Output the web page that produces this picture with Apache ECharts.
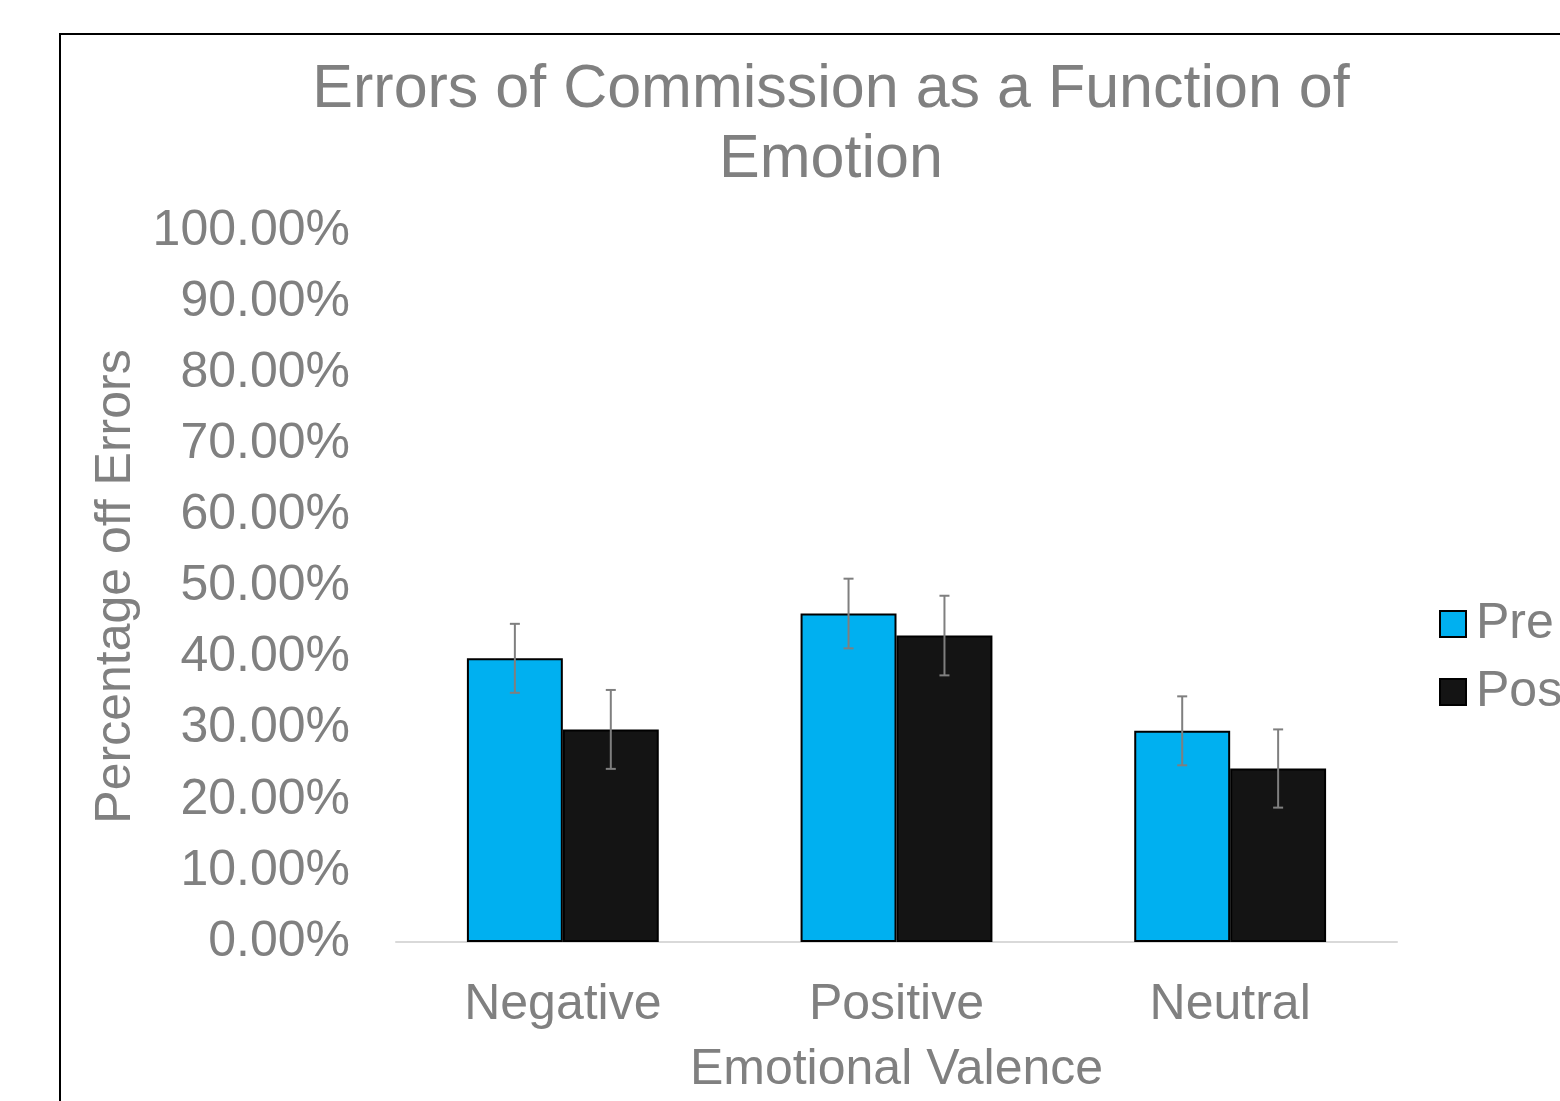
<!DOCTYPE html>
<html>
<head>
<meta charset="utf-8">
<script src="https://cdn.jsdelivr.net/npm/echarts@6/dist/echarts.min.js"></script>
<style>
  html, body { margin: 0; padding: 0; background: #fff; }
  #main { width: 1560px; height: 1101px; }
</style>
</head>
<body>
<div id="main"></div>
<script>
// values, in percent
const categories = ['Negative', 'Positive', 'Neutral']
const preValues = [39.9, 46.2, 29.7]
const postValues = [29.9, 43.1, 24.4]
const preErrors = [4.85, 4.9, 4.85]
const postErrors = [5.55, 5.6, 5.5]

const gray = '#808080'
const font = 'Liberation Sans, Arial, sans-serif'
const catGap = 0.425

const chart = echarts.init(document.getElementById('main'), null, { renderer: 'canvas' })

// error bar drawn at the middle of one of the two bars in a category
function errorBars(values, errors, side) {
  return {
    type: 'custom',
    z: 10,
    silent: true,
    data: values.map((v, i) => [i, v, errors[i]]),
    renderItem(params, api) {
      const i = api.value(0)
      const v = api.value(1)
      const e = api.value(2)
      const band = api.size([1, 0])[0]
      const barW = band * (1 - catGap) / 2
      const x = api.coord([i, v])[0] + side * barW / 2
      const yTop = api.coord([i, v + e])[1]
      const yBot = api.coord([i, v - e])[1]
      const cap = 5
      const style = { stroke: '#7f7f7f', lineWidth: 2 }
      return {
        type: 'group',
        children: [
          { type: 'line', shape: { x1: x, y1: yTop, x2: x, y2: yBot }, style },
          { type: 'line', shape: { x1: x - cap, y1: yTop, x2: x + cap, y2: yTop }, style },
          { type: 'line', shape: { x1: x - cap, y1: yBot, x2: x + cap, y2: yBot }, style }
        ]
      }
    }
  }
}

const option = {
  backgroundColor: '#fff',
  animation: false,
  textStyle: { fontFamily: font },
  graphic: [{
    type: 'rect',
    shape: { x: 60, y: 34, width: 1600, height: 1200 },
    style: { fill: 'none', stroke: '#000', lineWidth: 2 },
    silent: true
  }],
  title: {
    text: 'Errors of Commission as a Function of\nEmotion',
    left: 826,
    textAlign: 'center',
    top: 50,
    textStyle: {
      color: gray,
      fontFamily: font,
      fontWeight: 'normal',
      fontSize: 61,
      lineHeight: 70
    }
  },
  legend: {
    data: ['Pre', 'Post'],
    orient: 'vertical',
    left: 1434,
    top: 594,
    itemWidth: 26,
    itemHeight: 26,
    itemGap: 18,
    icon: 'rect',
    textStyle: { color: gray, fontSize: 50, fontFamily: font, lineHeight: 50, padding: [0, 0, 0, 5] }
  },
  grid: { left: 396, right: 163, top: 231, bottom: 159, containLabel: false },
  xAxis: {
    type: 'category',
    data: categories,
    name: 'Emotional Valence',
    nameLocation: 'middle',
    nameGap: 103,
    nameTextStyle: { color: gray, fontSize: 50, fontFamily: font },
    axisLine: { lineStyle: { color: '#d9d9d9', width: 2 } },
    axisTick: { show: false },
    axisLabel: { color: gray, fontSize: 50, fontFamily: font, margin: 38 }
  },
  yAxis: {
    type: 'value',
    min: 0,
    max: 100,
    interval: 10,
    name: 'Percentage off Errors',
    nameLocation: 'middle',
    nameGap: 250,
    nameTextStyle: { color: gray, fontSize: 50, fontFamily: font },
    axisLine: { show: false },
    axisTick: { show: false },
    splitLine: { show: false },
    axisLabel: {
      color: gray,
      fontSize: 50,
      fontFamily: font,
      margin: 46,
      formatter: v => v.toFixed(2) + '%'
    }
  },
  series: [
    {
      name: 'Pre',
      type: 'bar',
      data: preValues,
      barGap: '0%',
      barCategoryGap: (catGap * 100) + '%',
      itemStyle: { color: '#00b0f0', borderColor: '#000', borderWidth: 2 }
    },
    {
      name: 'Post',
      type: 'bar',
      data: postValues,
      itemStyle: { color: '#141414', borderColor: '#000', borderWidth: 2 }
    },
    errorBars(preValues, preErrors, -1),
    errorBars(postValues, postErrors, 1)
  ]
}

chart.setOption(option)
</script>
</body>
</html>
